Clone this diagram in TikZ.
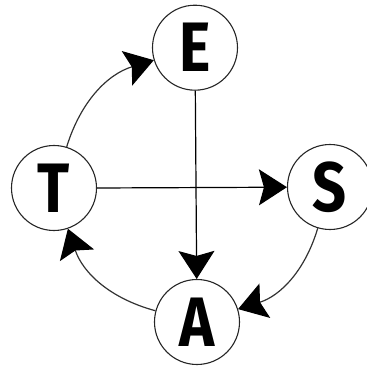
\documentclass[tikz,border=0pt]{standalone}
\usepackage{fontspec}
\setmainfont{Fira Sans}
\usetikzlibrary{arrows.meta}
\begin{document}
\begin{tikzpicture}[x=1pt,y=1pt,
  state/.style={circle,draw=black!85,line width=1.1pt,minimum size=85pt,inner sep=0pt,
    font=\fontsize{70}{70}\selectfont\bfseries},
  edge/.style={line width=1.2pt,-{Stealth[length=28pt,width=36pt,inset=5pt,color=black]}},
  curve/.style={edge,draw=black!80,bend left=28}]
\useasboundingbox (0,0) rectangle (367,368);
\node[state] (E) at (195,320.3) {\scalebox{0.85}[1]{E}};
\node[state] (T) at (54,180) {\scalebox{0.85}[1]{T}};
\node[state] (S) at (330,181) {\scalebox{0.85}[1]{S}};
\node[state] (A) at (197,46) {\scalebox{0.85}[1]{A}};
\draw[edge] (E) -- (A);
\draw[edge] (T.east |- 0,180) -- (S);
\draw[curve] (T) to (E);
\draw[curve] (S) to (A);
\draw[curve] (A) to (T);
\end{tikzpicture}
\end{document}
